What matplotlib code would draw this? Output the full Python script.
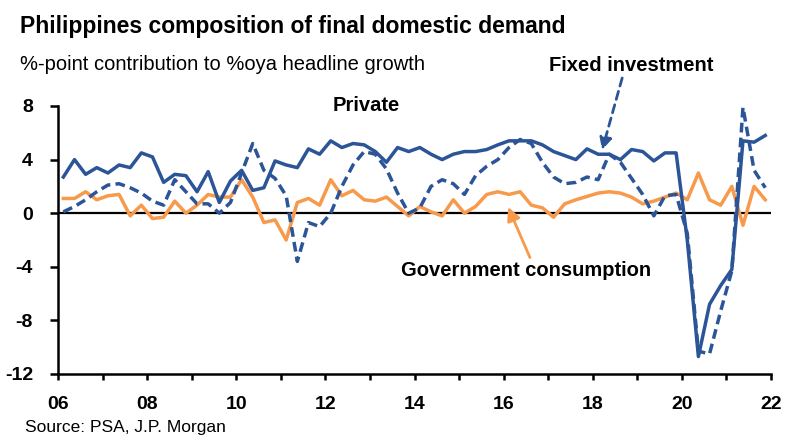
import matplotlib
matplotlib.use("Agg")
import matplotlib.pyplot as plt

plt.rcParams['font.family'] = ['Liberation Sans', 'DejaVu Sans']

# quarterly data, 2006Q1 - 2021Q4
years = [y for y in range(2006, 2022) for q in range(4)]
quarters = [q for y in range(2006, 2022) for q in range(1, 5)]

private = [2.7, 4.0, 2.9, 3.4, 3.0, 3.6, 3.4, 4.5,
           4.2, 2.3, 2.9, 2.8, 1.6, 3.1, 0.8, 2.4,
           3.2, 1.7, 1.9, 3.9, 3.6, 3.4, 4.8, 4.4,
           5.4, 4.9, 5.2, 5.1, 4.6, 3.8, 4.9, 4.6,
           4.9, 4.4, 4.0, 4.4, 4.6, 4.6, 4.75, 5.1,
           5.4, 5.4, 5.4, 5.1, 4.6, 4.3, 4.0, 4.8,
           4.4, 4.4, 4.0, 4.75, 4.6, 3.9, 4.5, 4.5,
           -2.0, -10.7, -6.8, -5.4, -4.2, 5.4, 5.3, 5.8]

fixed_inv = [0.1, 0.5, 1.0, 1.6, 2.1, 2.2, 1.9, 1.5,
             0.9, 0.6, 2.5, 1.6, 0.7, 0.7, 0.0, 0.8,
             3.0, 5.2, 3.2, 2.6, 1.3, -3.6, -0.7, -1.0,
             0.0, 2.0, 3.6, 4.6, 4.4, 3.3, 1.5, 0.0,
             0.4, 2.0, 2.5, 2.2, 1.4, 2.8, 3.5, 4.0,
             4.9, 5.5, 5.2, 3.8, 2.7, 2.2, 2.3, 2.7,
             2.5, 4.4, 3.8, 2.6, 1.4, -0.2, 1.3, 1.4,
             -1.5, -10.3, -10.5, -7.3, -4.3, 7.9, 3.2, 1.9]

government = [1.1, 1.1, 1.6, 1.0, 1.3, 1.4, -0.2, 0.6,
              -0.4, -0.3, 0.9, 0.0, 0.6, 1.4, 1.2, 1.2,
              2.5, 1.2, -0.7, -0.5, -2.0, 0.8, 1.1, 0.6,
              2.5, 1.3, 1.7, 1.0, 0.9, 1.2, 0.5, -0.2,
              0.5, 0.1, -0.2, 1.0, 0.0, 0.5, 1.4, 1.6,
              1.4, 1.6, 0.6, 0.4, -0.3, 0.7, 1.0, 1.25,
              1.5, 1.6, 1.5, 1.2, 0.7, 0.9, 1.2, 1.5,
              1.0, 3.0, 1.0, 0.6, 2.0, -0.9, 2.0, 1.0]

tick_years = list(range(2006, 2023))
y_ticks = [-12, -8, -4, 0, 4, 8]

blue = '#2C5597'
orange = '#F79A4B'

t = [y + (q - 1) / 4 + 0.12 for y, q in zip(years, quarters)]

fig = plt.figure(figsize=(8, 4.48), dpi=100)
ax = fig.add_axes([0.0725, 0.1652, 0.8913, 0.5982])

ax.axhline(0, color='black', lw=1.6, zorder=1)
ax.plot(t, government, color=orange, lw=2.5, zorder=2)
ax.plot(t, fixed_inv, color=blue, lw=2.5, dashes=(2.8, 1.5), zorder=3)
ax.plot(t, private, color=blue, lw=2.5, zorder=4)

ax.set_xlim(2006, 2022)
ax.set_ylim(-12, 8)
ax.set_xticks(tick_years)
ax.set_xticklabels([f'{y % 100:02d}' if y % 2 == 0 else '' for y in tick_years])
ax.set_yticks(y_ticks)
ax.set_yticklabels([str(v) for v in y_ticks])

for s in ['top', 'right']:
    ax.spines[s].set_visible(False)
for s in ['left', 'bottom']:
    ax.spines[s].set_linewidth(1.8)
    ax.spines[s].set_color('black')

ax.tick_params(axis='x', direction='out', length=4, width=1.8, pad=12,
               labelsize=14)
ax.tick_params(axis='y', direction='out', length=6, width=1.8, pad=12,
               labelsize=14)
for lab in ax.get_xticklabels() + ax.get_yticklabels():
    lab.set_fontweight('bold')

# labels and arrows
ax.text(2012.91, 8.07, 'Private', fontsize=14.5, fontweight='bold',
        ha='center', va='center')
ax.annotate('', xy=(2018.21, 4.72), xytext=(2018.66, 10.09),
            arrowprops=dict(arrowstyle='-|>', color=blue, lw=2,
                            linestyle=(0, (3, 2)), mutation_scale=18,
                            shrinkA=0, shrinkB=0),
            annotation_clip=False)
ax.text(2018.86, 10.99, 'Fixed investment', fontsize=14.5, fontweight='bold',
        ha='center', va='center', clip_on=False)
ax.annotate('', xy=(2016.10, 0.46), xytext=(2016.59, -3.31),
            arrowprops=dict(arrowstyle='-|>', color=orange, lw=2,
                            mutation_scale=20, shrinkA=0, shrinkB=0))
ax.text(2016.50, -4.31, 'Government consumption', fontsize=14.5,
        fontweight='bold', ha='center', va='center')

fig.text(0.025, 0.966, 'Philippines composition of final domestic demand',
         fontsize=16.5, fontweight='bold', ha='left', va='top')
fig.text(0.025, 0.878, '%-point contribution to %oya headline growth',
         fontsize=14.5, ha='left', va='top')
fig.text(0.031, 0.062, 'Source: PSA, J.P. Morgan', fontsize=12.5,
         ha='left', va='top')

fig.savefig('out.png', dpi=100)
